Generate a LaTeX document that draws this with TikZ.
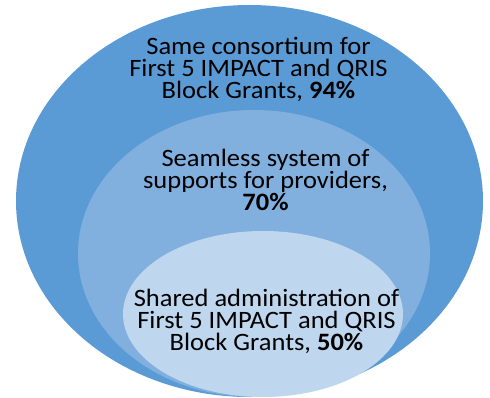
\documentclass[tikz,border=0pt]{standalone}
\usepackage{fontspec}
\setmainfont{Carlito}[FakeStretch=1.06]
\definecolor{outerc}{HTML}{5B9BD5}
\definecolor{midc}{HTML}{82B0DE}
\definecolor{innerc}{HTML}{BED6EE}
\begin{document}
\begin{tikzpicture}[x=1pt,y=-1pt,
  lbl/.style={align=center,font=\fontsize{25}{22}\selectfont,inner sep=0pt,text=black}]
\useasboundingbox (0,0) rectangle (490,398);
\fill[outerc] (249.5,201) ellipse [x radius=233.5, y radius=196];
\fill[midc] (254,253.5) ellipse [x radius=176, y radius=143.5];
\fill[innerc] (263,314) ellipse [x radius=140, y radius=83];
\node[lbl] (t1) at (258.5,69) {Same consortium for\\First 5 IMPACT and QRIS\\Block Grants, \textbf{94\%}};
\node[lbl] (t2) at (265.5,180) {Seamless system of\\supports for providers,\\\textbf{70\%}};
\node[lbl] (t3) at (266.5,321) {Shared administration of\\First 5 IMPACT and QRIS\\Block Grants, \textbf{50\%}};
\end{tikzpicture}
\end{document}
